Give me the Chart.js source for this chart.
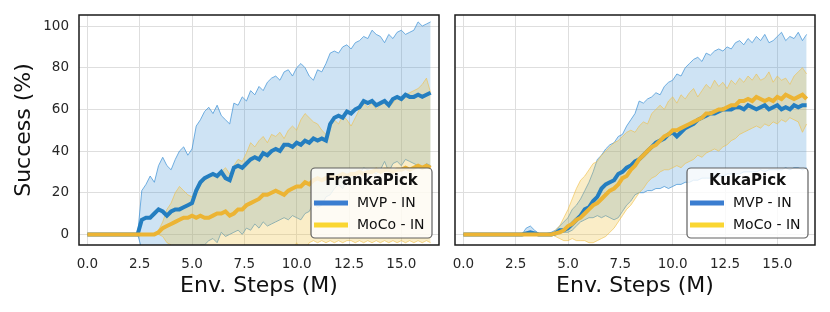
<!DOCTYPE html>
<html><head><meta charset="utf-8">
<script src="https://cdn.jsdelivr.net/npm/chart.js@4/dist/chart.umd.min.js"></script>
<style>
html,body{margin:0;padding:0;background:#fff;}
#wrap{position:relative;width:830px;height:312px;overflow:hidden;}
.c{position:absolute;top:0;height:312px;}
</style></head><body>
<div id="wrap">
<div class="c" style="left:0;width:447px"><canvas id="left" width="447" height="312"></canvas></div>
<div class="c" style="left:447px;width:383px"><canvas id="right" width="383" height="312"></canvas></div>
</div>
<script>
// ---------------- DATA ----------------
const steps = [0,0.2,0.4,0.6,0.8,1,1.2,1.4,1.6,1.8,2,2.2,2.4,2.6,2.8,3,3.2,3.4,3.6,3.8,4,4.2,4.4,4.6,4.8,5,5.2,5.4,5.6,5.8,6,6.2,6.4,6.6,6.8,7,7.2,7.4,7.6,7.8,8,8.2,8.4,8.6,8.8,9,9.2,9.4,9.6,9.8,10,10.2,10.4,10.6,10.8,11,11.2,11.4,11.6,11.8,12,12.2,12.4,12.6,12.8,13,13.2,13.4,13.6,13.8,14,14.2,14.4,14.6,14.8,15,15.2,15.4,15.6,15.8,16,16.2,16.4];
const xTicks = [0,2.5,5,7.5,10,12.5,15];
const yTicks = [0,20,40,60,80,100];
const seriesNames = ['MVP - IN','MoCo - IN'];
const panelTitles = ['FrankaPick','KukaPick'];

// FrankaPick
const frankaMvpMean = [0,0,0,0,0,0,0,0,0,0,0,0,0,
 7,8,8,10,12,11,9,11,12,12,
 13,14,15,21,25,27,28,29,28,30,
 27,26,32,33,32,34,36,37,36,39,
 38,40,41,40,43,43,42,44,43,45,
 44,46,45,46,45,53,56,57,56,59,
 58,60,61,64,63,64,62,63,64,62,
 65,66,65,67,66,66,67,66,67,68];
const frankaMvpUpper = [0,0,0,0,0,0,0,0,0,0,0,0,0,
 21,24,28,25,33,37,33,31,36,40,
 42,38,41,52,55,59,61,58,62,57,
 55,53,63,62,66,64,69,67,71,69,
 73,75,76,74,78,79,76,80,82,80,
 76,74,79,78,82,87,88,87,90,91,
 89,92,93,95,94,98,96,95,92,96,
 94,97,98,96,97,98,102,100,101,102];
const frankaMvpLower = [0,0,0,0,0,0,0,0,0,0,0,0,0,
 -7,-8,-12,-6,-9,-15,-15,-9,-12,-16,
 -16,-10,-11,-10,-5,-5,-3,-2,-4,1,
 -1,0,1,2,0,3,2,5,3,6,
 4,5,6,7,8,7,9,8,7,10,
 11,15,13,14,18,19,22,24,22,26,
 27,28,29,32,31,30,29,31,35,30,
 34,35,33,36,35,34,33,32,34,33];
const frankaMocoMean = [0,0,0,0,0,0,0,0,0,0,0,0,0,0,0,0,0,
 1,3,4,5,6,7,8,8,9,8,
 9,8,8,9,10,10,11,9,10,12,
 12,14,15,16,17,19,19,20,21,20,
 19,21,22,23,23,25,24,26,27,26,
 27,28,27,28,29,28,29,29,30,29,
 30,30,31,30,31,31,30,31,31,32,
 31,32,33,32,33,32];
const frankaMocoUpper = [0,0,0,0,0,0,0,0,0,0,0,0,0,0,0,0,0,
 2,6,12,15,20,23,21,19,18,22,
 24,26,28,29,27,30,32,29,33,36,
 35,39,44,42,45,47,44,48,47,49,
 46,50,52,50,55,58,56,54,53,50,
 48,52,55,53,57,55,52,56,60,63,
 61,63,60,62,64,61,63,66,64,67,
 68,69,70,72,75,68];
const frankaMocoLower = [0,0,0,0,0,0,0,0,0,0,0,0,0,0,0,0,0,
 0,-1,-4,-5,-7,-8,-6,-8,-7,-6,
 -7,-9,-12,-11,-7,-10,-10,-11,-13,-12,
 -11,-11,-14,-10,-11,-9,-6,-8,-5,-9,
 -8,-8,-8,-4,-9,-8,-4,-3,-4,-3,
 -4,-3,-4,-3,-4,-3,-3,-4,-3,-4,
 -3,-4,-3,-4,-3,-4,-3,-4,-3,-4,
 -3,-4,-3,-4,-3,-4];

// KukaPick
const kukaMvpMean = [0,0,0,0,0,0,0,0,0,0,0,0,0,0,0,
 0.5,1,0.5,0,0,0,0,0.5,2,2,
 3,5,7,9,12,13,16,18,22,24,
 25,26,29,30,32,33,35,36,38,40,
 42,44,45,46,48,49,47,49,51,52,
 53,55,56,57,58,58,59,60,60,60,
 61,61,60,62,61,60,61,62,60,61,
 62,60,61,60,62,61,62,62];
const kukaMvpUpper = [0,0,0,0,0,0,0,0,0,0,0,0,0,0,0,
 3,4,2,0.5,0,0.5,1,2,4,6,
 8,12,14,17,21,25,30,36,38,41,
 43,44,47,48,52,55,58,64,63,65,
 66,68,67,71,73,74,77,76,80,82,
 84,85,83,87,86,88,89,88,90,89,
 92,93,91,94,92,95,93,96,92,93,
 95,97,93,95,94,97,93,96];
const kukaMvpLower = [0,0,0,0,0,0,0,0,0,0,0,0,0,0,0,
 0,0,0,0,0,0,0,0,0.5,1,
 1,2,4,6,7,8,8,9,8,9,
 8,7,8,11,14,16,19,20,20,21,
 21,22,22,23,22,23,24,24,25,25,
 26,26,27,27,27,28,28,28,29,29,
 29,29,30,30,30,30,31,30,31,31,
 31,31,32,31,32,32,31,32];
const kukaMocoMean = [0,0,0,0,0,0,0,0,0,0,0,0,0,0,0,0,0,0,0,0,0,0,
 0.5,1,2,4,5,7,8,10,12,14,
 15,17,19,21,22,24,27,28,31,33,
 36,38,40,42,43,45,47,48,50,50,
 51,52,53,54,55,56,58,58,59,60,
 60,61,62,62,64,64,65,64,66,65,
 64,65,64,66,65,67,66,65,66,67,
 65];
const kukaMocoUpper = [0,0,0,0,0,0,0,0,0,0,0,0,0,0,0,0,0,0,0,0,0,0,
 2,4,8,12,17,22,26,28,31,34,
 35,38,40,42,44,45,47,49,50,49,
 52,54,53,58,60,62,60,64,66,63,
 67,65,68,70,66,69,72,70,74,71,
 73,70,74,72,75,73,76,74,77,74,
 75,78,73,76,74,75,72,76,78,80,
 77];
const kukaMocoLower = [0,0,0,0,0,0,0,0,0,0,0,0,0,0,0,0,0,0,0,0,0,0,
 -1,-2,-3,-3,-2,-3,-3,-3,-4,-4,
 -3,-2,-1,1,3,6,9,12,14,17,
 20,22,25,27,28,30,31,31,32,33,
 32,34,35,36,38,37,39,40,41,40,
 42,43,45,46,48,49,50,51,52,51,
 53,52,54,53,55,54,56,55,54,49,
 53];

// ---------------- STYLE ----------------
const FONT = '"DejaVu Sans", "Liberation Sans", sans-serif';
const COL = {
  blueMean: 'rgb(36,126,192)',
  blueThin: 'rgba(70,150,215,0.75)',
  blueFill: 'rgba(60,145,210,0.25)',
  blueLegend: 'rgb(58,125,208)',
  yelMean: 'rgb(236,180,52)',
  yelThin: 'rgba(240,190,70,0.6)',
  yelFill: 'rgba(240,195,70,0.3)',
  yelLegend: 'rgb(250,214,50)'
};

function pts(arr){ return steps.map((x,i)=>({x:x, y:arr[i]})); }

const frameBox = {
  id:'frameBox',
  afterDatasetsDraw(chart){
    const {ctx, chartArea:a} = chart;
    ctx.save();
    ctx.strokeStyle = '#1a1a1a';
    ctx.lineWidth = 1.5;
    ctx.strokeRect(a.left, a.top, a.right-a.left, a.bottom-a.top);
    ctx.restore();
  }
};
const boxLegend = {
  id:'boxLegend',
  afterDraw(chart, args, opts){
    const {ctx, chartArea:a} = chart;
    const w = 121, h = 70;
    const x = a.right - 7 - w, y = a.bottom - 7 - h;
    ctx.save();
    ctx.beginPath();
    ctx.roundRect(x, y, w, h, 4);
    ctx.fillStyle = 'rgba(255,255,255,0.8)';
    ctx.fill();
    ctx.lineWidth = 1.2;
    ctx.strokeStyle = 'rgba(80,80,80,0.9)';
    ctx.stroke();
    ctx.fillStyle = '#111';
    ctx.textBaseline = 'middle';
    ctx.textAlign = 'center';
    ctx.font = 'bold 15px ' + FONT;
    ctx.fillText(opts.title, x + w/2, y + 13);
    ctx.font = '14px ' + FONT;
    ctx.textAlign = 'left';
    opts.items.forEach((it, i) => {
      const yy = y + 35 + i*22;
      ctx.strokeStyle = it.color;
      ctx.lineWidth = 5;
      ctx.lineCap = 'butt';
      ctx.beginPath(); ctx.moveTo(x+3, yy); ctx.lineTo(x+37, yy); ctx.stroke();
      ctx.fillStyle = '#111';
      ctx.fillText(it.label, x + 46, yy);
    });
    ctx.restore();
  }
};

function makeChart(id, title, mvp, moco, isLeft){
  const thin = {pointRadius:0, borderWidth:1, tension:0, clip:0};
  return new Chart(document.getElementById(id), {
    type:'line',
    data:{ datasets:[
      Object.assign({label:seriesNames[0]+' upper', data:pts(mvp[1]), borderColor:COL.blueThin, backgroundColor:COL.blueFill, fill:'+1', order:4}, thin),
      Object.assign({label:seriesNames[0]+' lower', data:pts(mvp[2]), borderColor:COL.blueThin, fill:false, order:4}, thin),
      Object.assign({label:seriesNames[1]+' upper', data:pts(moco[1]), borderColor:COL.yelThin, backgroundColor:COL.yelFill, fill:'+1', order:3}, thin),
      Object.assign({label:seriesNames[1]+' lower', data:pts(moco[2]), borderColor:COL.yelThin, fill:false, order:3}, thin),
      {label:seriesNames[0], data:pts(mvp[0]), borderColor:COL.blueMean, borderWidth:4, pointRadius:0, tension:0, fill:false, order:2, clip:0},
      {label:seriesNames[1], data:pts(moco[0]), borderColor:COL.yelMean, borderWidth:4, pointRadius:0, tension:0, fill:false, order:1, clip:0}
    ]},
    options:{
      responsive:false, animation:false, devicePixelRatio:1,
      layout:{padding:{top:15, right: isLeft ? 8 : 15, left:0, bottom:0}},
      plugins:{
        legend:{display:false}, tooltip:{enabled:false},
        filler:{propagate:false},
        boxLegend:{title:title, items:[{label:seriesNames[0], color:COL.blueLegend},{label:seriesNames[1], color:COL.yelLegend}]}
      },
      scales:{
        x:{
          type:'linear', min:-0.4, max:16.8,
          afterBuildTicks:s=>{ s.ticks = xTicks.map(v=>({value:v})); },
          afterFit:s=>{ s.height = 67; s.paddingLeft = 0; s.paddingRight = 0; },
          ticks:{ callback:v=>Number(v).toFixed(1), font:{family:FONT, size:13.5}, color:'#262626', padding:11, maxRotation:0, autoSkip:false },
          grid:{ color:'#dedede', lineWidth:1, drawTicks:false },
          border:{ display:false },
          title:{ display:true, text:'Env. Steps (M)', font:{family:FONT, size:22}, color:'#111', padding:{top:0, bottom:13} }
        },
        y:{
          type:'linear', min:-5.1, max:105.3,
          afterBuildTicks:s=>{ s.ticks = yTicks.map(v=>({value:v})); },
          afterFit:s=>{ s.width = isLeft ? 79 : 8; s.paddingTop = 0; s.paddingBottom = 0; },
          ticks:{ display:isLeft, callback:v=>String(v), font:{family:FONT, size:13.5}, color:'#262626', padding:10 },
          grid:{ color:'#dedede', lineWidth:1, drawTicks:false },
          border:{ display:false },
          title:{ display:isLeft, text:'Success (%)', font:{family:FONT, size:22}, color:'#111', padding:{top:11, bottom:0} }
        }
      }
    },
    plugins:[frameBox, boxLegend]
  });
}

makeChart('left', panelTitles[0], [frankaMvpMean, frankaMvpUpper, frankaMvpLower], [frankaMocoMean, frankaMocoUpper, frankaMocoLower], true);
makeChart('right', panelTitles[1], [kukaMvpMean, kukaMvpUpper, kukaMvpLower], [kukaMocoMean, kukaMocoUpper, kukaMocoLower], false);
</script>
</body></html>
